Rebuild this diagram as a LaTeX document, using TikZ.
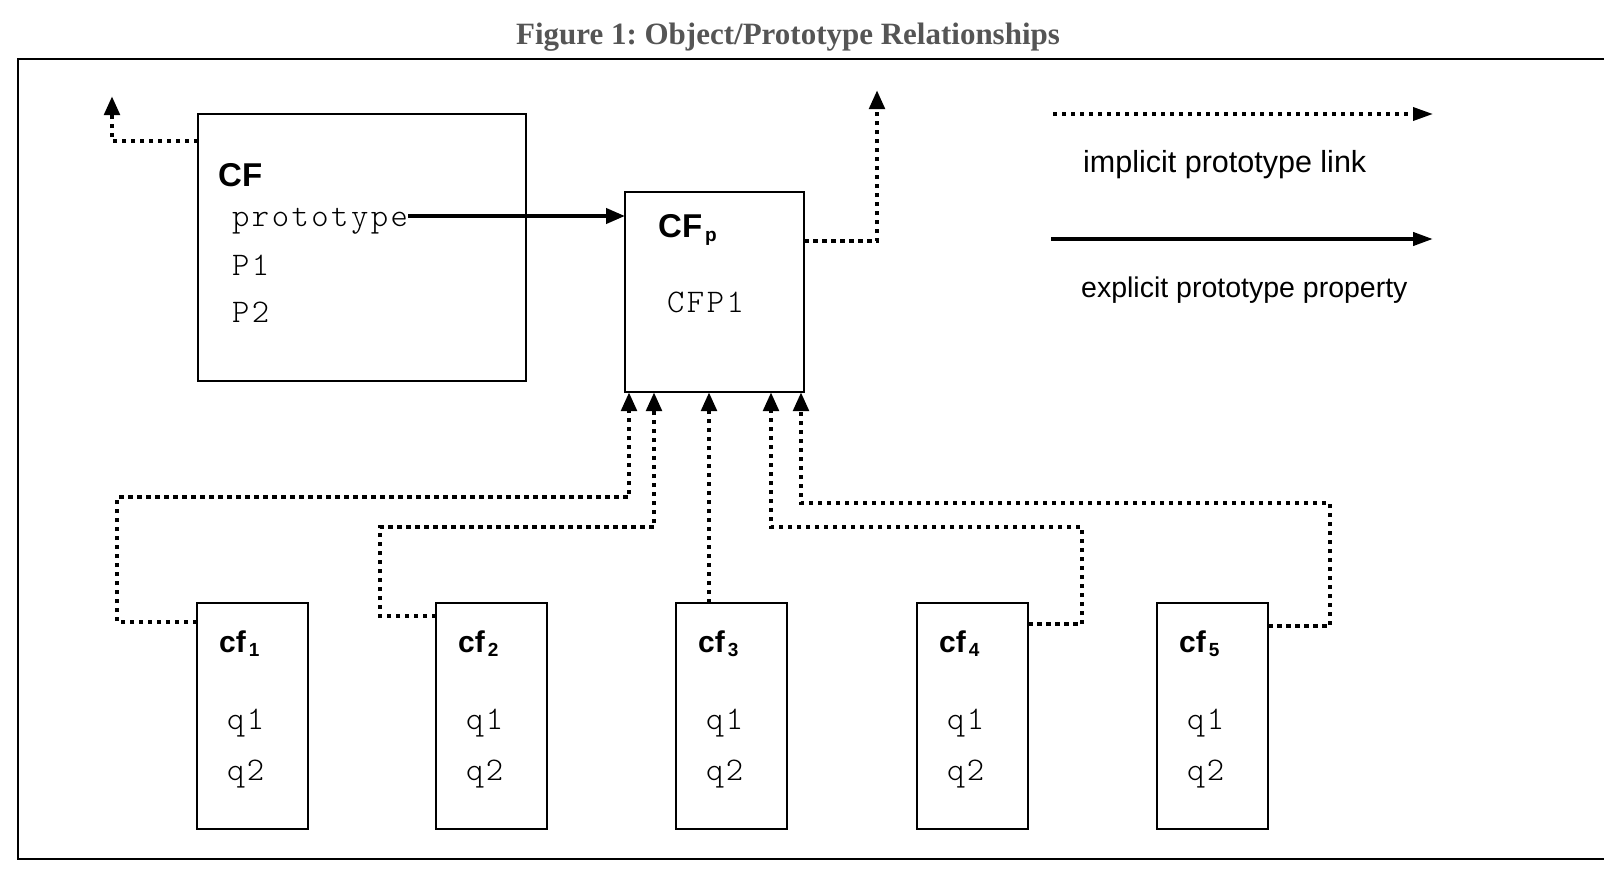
\documentclass[tikz,border=0pt]{standalone}
\usepackage{fontspec}
\newfontfamily\helv{Liberation Sans}
\newfontfamily\ttl{Liberation Serif}
\newfontfamily\mono{lmmonolt10-regular.otf}[LetterSpace=7.5]
\usetikzlibrary{arrows.meta}
\definecolor{titlegray}{HTML}{555555}
\tikzset{
  box/.style={draw, line width=2.5pt, inner sep=0pt, outer sep=0pt, anchor=north west},
  implicit/.style={line width=4.8pt, dash pattern=on 4.5pt off 4.5pt},
  explicit/.style={line width=4pt},
  tip/.style={-{Triangle[length=19pt,width=15pt]}},
  lbl/.style={inner sep=0pt, anchor=base west, font=\helv\bfseries\fontsize{30}{34}\selectfont},
  biglbl/.style={lbl, font=\helv\bfseries\fontsize{33}{38}\selectfont},
  prop/.style={inner sep=0pt, anchor=base west, font=\mono\fontsize{33}{38}\selectfont},
  legend/.style={inner sep=0pt, anchor=base west, font=\helv\fontsize{30.5}{36}\selectfont},
  frame/.style={line width=2.5pt},
}
\newcommand{\subbold}[1]{\hspace{3pt}{\fontsize{19}{19}\selectfont\raisebox{-4pt}{#1}}}
\begin{document}
\begin{tikzpicture}[x=1pt,y=-1pt]
\useasboundingbox (0,0) rectangle (1621,878);
% title
\node[inner sep=0pt, anchor=base, text=titlegray, font=\ttl\bfseries\fontsize{31}{36}\selectfont] (title) at (788,44) {\frenchspacing Figure 1: Object/Prototype Relationships};
% frame
\draw[frame] (1604,59) -- (18,59) -- (18,859) -- (1604,859);
% boxes
\node[box, minimum width=328pt, minimum height=267pt] (CF) at (198,114) {};
\node[box, minimum width=179pt, minimum height=200pt] (CFp) at (625,192) {};
\foreach \i/\x in {1/197,2/436,3/676,4/917,5/1157}{
  \node[box, minimum width=111pt, minimum height=226pt] (cf\i) at (\x,603) {};
  \node[lbl] (cfl\i) at (\x+22,652) {cf\subbold{\i}};
  \node[prop] (q1\i) at (\x+30,729) {q1};
  \node[prop] (q2\i) at (\x+30,780) {q2};
}
% CF texts
\node[biglbl] (CFl) at (218,186) {CF};
\node[prop] (proto) at (232,226) {prototype};
\node[prop] (P1) at (232,275) {P1};
\node[prop] (P2) at (232,322) {P2};
% CFp texts
\node[biglbl] (CFpl) at (658,237) {CF\subbold{p}};
\node[prop] (CFP1) at (667,312) {CFP1};
% explicit link
\coordinate (ps) at ([yshift=10pt]proto.base east);
\draw[explicit, tip] (ps) -- (ps -| CFp.west);
% upward implicit links
\coordinate (up1) at (112,96);
\coordinate (up2) at (877,90);
\draw[implicit, tip] ([yshift=-27pt]CF.north west) -| (up1);
\draw[implicit, tip] ([yshift=-49pt]CFp.north east) -| (up2);
% entry points on CFp bottom
\coordinate (b1) at ([xshift=4pt]CFp.south west);
\coordinate (b2) at ([xshift=29pt]CFp.south west);
\coordinate (b3) at ([xshift=84pt]CFp.south west);
\coordinate (b4) at ([xshift=146pt]CFp.south west);
\coordinate (b5) at ([xshift=176pt]CFp.south west);
\draw[implicit, tip] ([yshift=-19pt]cf1.north west) -| (117,497) -| (b1);
\draw[implicit, tip] ([yshift=-13pt]cf2.north west) -| (380,527) -| (b2);
\draw[implicit, tip] (b3 |- cf3.north) -- (b3);
\draw[implicit, tip] ([yshift=-21pt]cf4.north east) -| (1082,527) -| (b4);
\draw[implicit, tip] ([yshift=-23pt]cf5.north east) -| (1330,503) -| (b5);
% legend
\coordinate (l1s) at (1053,114);
\coordinate (l1e) at (1433,114);
\coordinate (l2s) at (1051,239);
\coordinate (l2e) at (1433,239);
\draw[implicit, line width=3.5pt, dash pattern=on 3.5pt off 5.5pt, -{Triangle[length=20pt,width=13pt]}] (l1s) -- (l1e);
\draw[explicit, -{Triangle[length=20pt,width=13pt]}] (l2s) -- (l2e);
\node[legend] (leg1) at (1083,172) {implicit prototype link};
\node[legend, font=\helv\fontsize{28.5}{34}\selectfont] (leg2) at (1081,297) {explicit prototype property};
\end{tikzpicture}
\end{document}
